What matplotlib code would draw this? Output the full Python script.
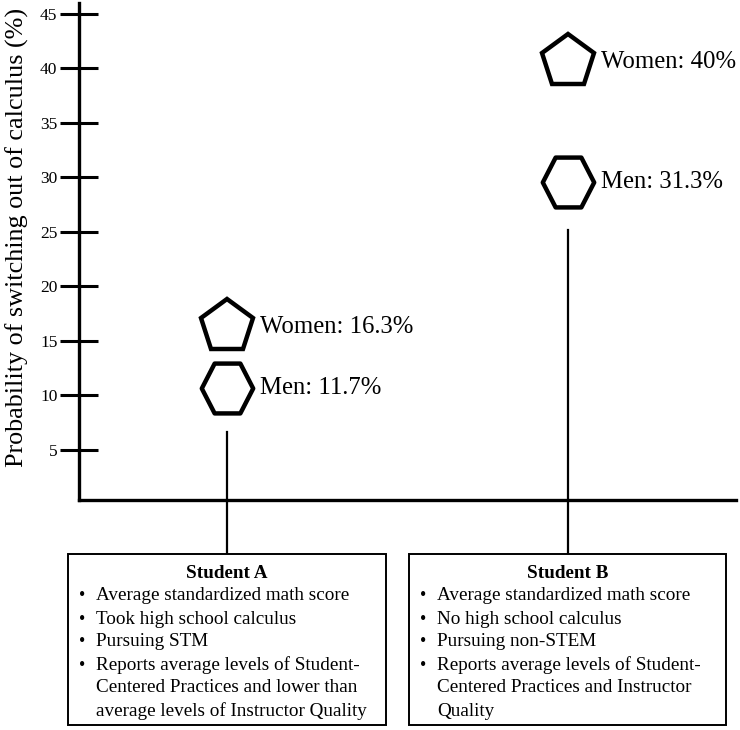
import matplotlib.pyplot as plt
from matplotlib.patches import Rectangle
from matplotlib.path import Path
import numpy as np

plt.rcParams['font.family'] = ['Liberation Serif', 'DejaVu Serif']

# data
students = ["Student A", "Student B"]
women = [16.3, 40]            # label values (%)
men = [11.7, 31.3]
women_y = [16.3, 40.6]        # where the markers sit on the axis in the figure
men_y = [10.7, 29.6]
line_tops = [6.6, 25.2]
yticks = [5, 10, 15, 20, 25, 30, 35, 40, 45]
details = [
    ["Average standardized math score",
     "Took high school calculus",
     "Pursuing STM",
     "Reports average levels of Student-",
     "Centered Practices and lower than",
     "average levels of Instructor Quality"],
    ["Average standardized math score",
     "No high school calculus",
     "Pursuing non-STEM",
     "Reports average levels of Student-",
     "Centered Practices and Instructor",
     "Quality"],
]
bullet_starts = [[True, True, True, True, False, False],
                 [True, True, True, True, False, False]]

W, H = 740, 730
fig = plt.figure(figsize=(W / 100, H / 100), dpi=100)
ax = fig.add_axes([79 / W, 1 - 500 / H, (736 - 79) / W, (500 - 3) / H])

xpos = [2.25, 7.44]
ax.set_xlim(0, 10)
ax.set_ylim(0.4, 46)

for sp in ['top', 'right']:
    ax.spines[sp].set_visible(False)
for sp in ['left', 'bottom']:
    ax.spines[sp].set_linewidth(2.4)
ax.set_xticks([])
ax.set_yticks(yticks)
ax.tick_params(axis='y', direction='inout', length=27, width=2.2, labelsize=12.5, pad=2)
ax.set_ylabel("Probability of switching out of calculus (%)", fontsize=18.8)
ax.yaxis.set_label_coords((29 - 79) / 657, (500 - 237) / 497)

# slightly tall flat-topped hexagon, like the reference
ang = np.deg2rad([0, 60, 120, 180, 240, 300, 0])
hexagon = Path(np.column_stack([np.cos(ang), 1.12 * np.sin(ang)]), closed=True)

box_top_px, box_bot_px = 554, 725
boxes_px = [(68, 386), (409, 726)]

for i, x in enumerate(xpos):
    # connector line from marker stem down to the box
    bottom_data = ax.transData.inverted().transform(
        fig.transFigure.transform((0, 1 - box_top_px / H)))[1]
    ax.plot([x, x], [line_tops[i], bottom_data], color='black', lw=1.6,
            clip_on=False, zorder=1)
    ax.plot(x, women_y[i], marker='p', ms=40, mfc='white', mec='black', mew=3.2,
            zorder=3, clip_on=False)
    ax.plot(x, men_y[i], marker=hexagon, ms=37, mfc='white', mec='black', mew=3.2,
            zorder=3, clip_on=False)
    ax.annotate(f"Women: {women[i]:g}%", (x, women_y[i]), xytext=(24, 0),
                textcoords='offset points', va='center', ha='left', fontsize=17.8)
    ax.annotate(f"Men: {men[i]:g}%", (x, men_y[i]), xytext=(24, 0),
                textcoords='offset points', va='center', ha='left', fontsize=17.8)

    # info box
    l, r = boxes_px[i]
    fig.patches.append(Rectangle((l / W, 1 - box_bot_px / H), (r - l) / W,
                                 (box_bot_px - box_top_px) / H,
                                 transform=fig.transFigure, fill=True,
                                 facecolor='white', edgecolor='black', lw=1.4))
    fig.text((l + r) / 2 / W, 1 - 573 / H, students[i], ha='center', va='center',
             fontsize=13.8, fontweight='bold')
    for j, line in enumerate(details[i]):
        y = 1 - (596 + j * 23) / H
        if bullet_starts[i][j]:
            fig.text((l + 11) / W, y, "\u2022", ha='left', va='center', fontsize=13)
        fig.text((l + 28) / W, y, line, ha='left', va='center', fontsize=13.8)

fig.savefig("out.png", dpi=100)
